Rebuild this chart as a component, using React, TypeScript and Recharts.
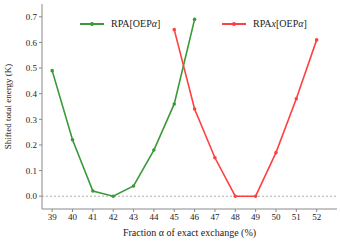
import React from 'react';
import { LineChart, Line, XAxis, YAxis, ReferenceLine, Legend } from 'recharts';

const alphas = [39, 40, 41, 42, 43, 44, 45, 46, 47, 48, 49, 50, 51, 52];
const rpaValues = [0.49, 0.22, 0.02, 0.0, 0.04, 0.18, 0.36, 0.69, null, null, null, null, null, null];
const rpaxValues = [null, null, null, null, null, null, 0.65, 0.34, 0.15, 0.0, 0.0, 0.17, 0.38, 0.61];
const xTicks = [39, 40, 41, 42, 43, 44, 45, 46, 47, 48, 49, 50, 51, 52];
const yTicks = [0, 0.1, 0.2, 0.3, 0.4, 0.5, 0.6, 0.7];

const GREEN = '#3a9a3a';
const RED = '#ff4040';
const FRAME = '#8a8a8a';
const FONT = '"Liberation Serif", "DejaVu Serif", serif';

const data = alphas.map((a, i) => ({ x: a, rpa: rpaValues[i], rpax: rpaxValues[i] }));

const LegendContent = () => {
  const item = (color: string, label: React.ReactNode, left: number) => (
    <div style={{ position: 'absolute', left, top: 0, display: 'flex', alignItems: 'center', height: 14 }}>
      <svg width={24} height={6} style={{ display: 'block' }}>
        <line x1={0} y1={3} x2={24} y2={3} stroke={color} strokeWidth={2} />
        <circle cx={12} cy={3} r={2} fill={color} />
      </svg>
      <span style={{ marginLeft: 7, fontFamily: FONT, fontSize: 10, color: '#222', lineHeight: '14px' }}>{label}</span>
    </div>
  );
  return (
    <div style={{ position: 'relative', width: 260, height: 14 }}>
      {item(GREEN, <>RPA[OEP<i>α</i>]</>, 0)}
      {item(RED, <>RPA<i>x</i>[OEP<i>α</i>]</>, 142)}
    </div>
  );
};

export default function App() {
  return (
    <div style={{ position: 'absolute', left: 0, top: 0 }}>
      <LineChart width={341} height={243} data={data} margin={{ top: 4, right: 4, bottom: 0, left: 0 }}
        style={{ fontFamily: FONT }}>
        <XAxis type="number" dataKey="x" domain={[38.5, 52.5]} ticks={xTicks} allowDecimals={false}
          stroke={FRAME} tickSize={3} height={34}
          tick={{ fontSize: 9, fill: '#222', fontFamily: FONT }}
          label={{ value: 'Fraction α of exact exchange (%)', position: 'insideBottom', offset: 7, fontSize: 10, fill: '#222', fontFamily: FONT }} />
        <XAxis xAxisId="top" orientation="top" type="number" dataKey="x" domain={[38.5, 52.5]} ticks={xTicks}
          stroke={FRAME} tick={false} tickLine={false} height={0} />
        <YAxis type="number" domain={[-0.05, 0.75]} ticks={yTicks} width={42}
          stroke={FRAME} tickSize={3} tickFormatter={(v: number) => v.toFixed(1)}
          tick={{ fontSize: 9, fill: '#222', fontFamily: FONT }}
          label={{ value: 'Shifted total energy (K)', angle: -90, position: 'insideLeft', offset: 8, fontSize: 9, fill: '#222', fontFamily: FONT, style: { textAnchor: 'middle' } }} />
        <YAxis yAxisId="right" orientation="right" type="number" domain={[-0.05, 0.75]} ticks={yTicks}
          stroke={FRAME} tick={false} tickLine={false} width={0} />
        <ReferenceLine y={0} stroke="#999" strokeDasharray="2 2" strokeWidth={0.8} />
        <Legend layout="horizontal" verticalAlign="middle" align="center" wrapperStyle={{ top: 17, left: 80, width: 260 }} content={<LegendContent />} />
        <Line dataKey="rpa" stroke={GREEN} strokeWidth={1.6} dot={{ r: 1.8, fill: GREEN, stroke: GREEN, strokeWidth: 0 }} isAnimationActive={false} connectNulls={false} />
        <Line dataKey="rpax" stroke={RED} strokeWidth={1.6} dot={{ r: 1.8, fill: RED, stroke: RED, strokeWidth: 0 }} isAnimationActive={false} connectNulls={false} />
      </LineChart>
    </div>
  );
}
